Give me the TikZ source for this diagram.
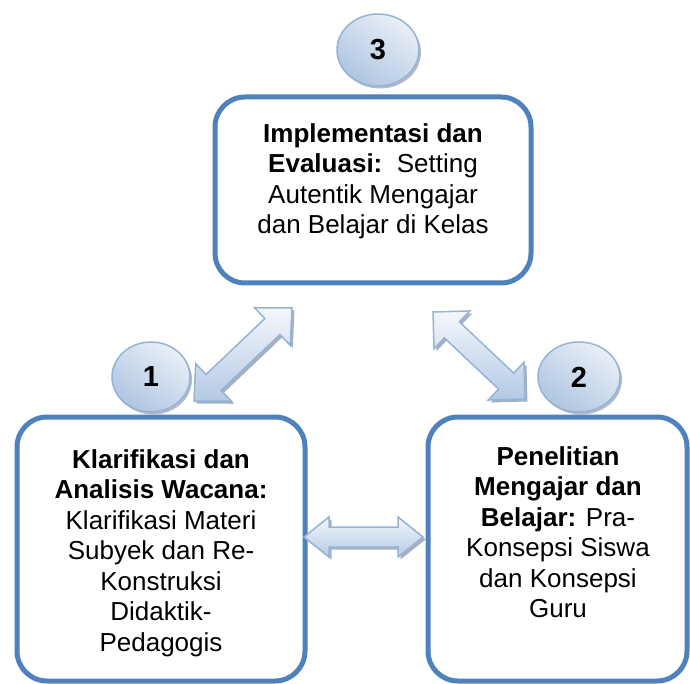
\documentclass[tikz,border=0pt]{standalone}
\usepackage{fontspec}
\setmainfont{Liberation Sans}
\usetikzlibrary{shapes.geometric,shadows,calc}
\definecolor{boxblue}{HTML}{4F81BD}
\definecolor{arrowline}{HTML}{95B3D7}
\definecolor{arrowtop}{HTML}{F4F7FB}
\definecolor{arrowbot}{HTML}{B4C9E3}
\definecolor{circlight}{HTML}{E9EFF7}
\definecolor{circdark}{HTML}{AFC5E1}
\definecolor{shadowcol}{HTML}{7F8FA8}
\tikzset{
  stagebox/.style={draw=boxblue, line width=5pt, rounded corners=30pt, fill=white},
  boxtext/.style={align=center, inner sep=0pt, anchor=north, text=black,
    font=\fontsize{26}{30.5}\selectfont},
  numcircle/.style={ellipse, draw=arrowline, line width=1.5pt,
    top color=circlight, bottom color=circdark, shading angle=-35,
    font=\fontsize{29}{32}\selectfont\bfseries, inner sep=0pt,
    drop shadow={shadow xshift=2pt, shadow yshift=-2.5pt, fill=shadowcol, opacity=0.6}},
  fatarrowstyle/.style={draw=arrowline, line width=1.5pt, line join=miter,
    top color=arrowtop, bottom color=arrowbot,
    drop shadow={shadow xshift=2.5pt, shadow yshift=-2.5pt, fill=shadowcol, opacity=0.7}}
}
% #1 start, #2 end, #3 half shaft, #4 half head, #5 head length
\newcommand{\fatdoublearrow}[5]{%
  \path[fatarrowstyle] (#1)
    -- ($(#1)!#5!(#2)!#4!90:(#2)$)
    -- ($(#1)!#5!(#2)!#3!90:(#2)$)
    -- ($(#2)!#5!(#1)!#3!-90:(#1)$)
    -- ($(#2)!#5!(#1)!#4!-90:(#1)$)
    -- (#2)
    -- ($(#2)!#5!(#1)!#4!90:(#1)$)
    -- ($(#2)!#5!(#1)!#3!90:(#1)$)
    -- ($(#1)!#5!(#2)!#3!-90:(#2)$)
    -- ($(#1)!#5!(#2)!#4!-90:(#2)$)
    -- cycle;}
\begin{document}
\begin{tikzpicture}[x=1pt, y=-1pt]
\useasboundingbox (0,0) rectangle (690,684);
\fill[white] (0,0) rectangle (690,684);

% boxes
\node[stagebox, minimum width=316pt, minimum height=186pt] (top) at (373,190) {};
\node[stagebox, minimum width=288pt, minimum height=264pt] (left) at (161,549) {};
\node[stagebox, minimum width=259pt, minimum height=264pt] (right) at (557.5,549) {};

% texts
\node[boxtext] (ttop) at (373,123) {\textbf{Implementasi dan}\\\textbf{Evaluasi:}\ \ Setting\\Autentik Mengajar\\dan Belajar di Kelas};
\node[boxtext] (tleft) at (161,449) {\textbf{Klarifikasi dan}\\\textbf{Analisis Wacana:}\\Klarifikasi Materi\\Subyek dan Re-\\Konstruksi\\Didaktik-\\Pedagogis};
\node[boxtext] (tright) at (558,446) {\textbf{Penelitian}\\\textbf{Mengajar dan}\\\textbf{Belajar:} Pra-\\Konsepsi Siswa\\dan Konsepsi\\Guru};

% arrow end points
\coordinate (hA) at (304,537);
\coordinate (hB) at (423,537);
\coordinate (lA) at (194,401);
\coordinate (lB) at (292,308);
\coordinate (rA) at (433,312);
\coordinate (rB) at (525,399);

\fatdoublearrow{hA}{hB}{10pt}{20pt}{25pt}
\fatdoublearrow{lA}{lB}{11pt}{26pt}{27pt}
\fatdoublearrow{rA}{rB}{11pt}{26pt}{26pt}

% number circles
\node[numcircle, minimum width=82pt, minimum height=72pt] (c3) at (378,50) {3};
\node[numcircle, minimum width=78pt, minimum height=70pt] (c1) at (151,377) {1};
\node[numcircle, minimum width=82pt, minimum height=70pt] (c2) at (579,377) {2};
\end{tikzpicture}
\end{document}
